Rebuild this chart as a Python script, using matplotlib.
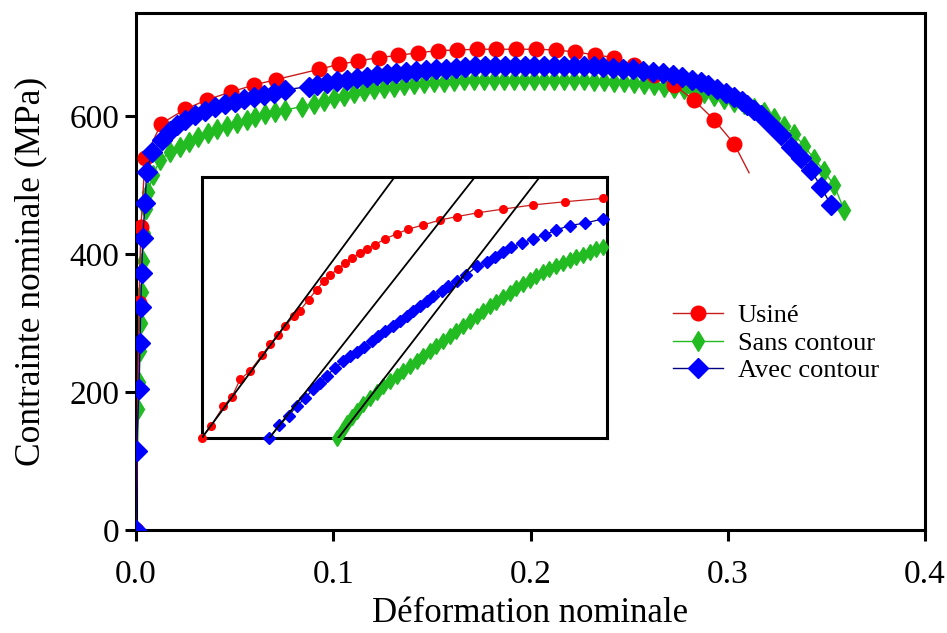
import matplotlib
matplotlib.use("Agg")
import matplotlib.pyplot as plt
import numpy as np

plt.rcParams['font.family'] = ['Liberation Serif', 'DejaVu Serif']

# ---------------- main chart data ----------------
usine_x = [0.0, 0.0015, 0.0025, 0.0046, 0.0127, 0.0249, 0.0362, 0.048, 0.0596, 0.0709,
           0.0929, 0.1027, 0.1128, 0.123, 0.1328, 0.143, 0.1531, 0.1628, 0.173, 0.1827,
           0.1927, 0.203, 0.2127, 0.2228, 0.2326, 0.2421, 0.2525, 0.2626, 0.2728, 0.2829,
           0.293, 0.3032, 0.3108]
usine_y = [0, 329, 439, 539, 589, 610, 624, 635, 645, 653,
           668, 675, 680, 685, 688, 692, 695, 696, 697, 697,
           697, 697, 696, 693, 689, 685, 674, 659, 645, 623,
           595, 560, 518]

sans_x = [0.0, 0.0012, 0.0016, 0.002, 0.0025, 0.003, 0.0035, 0.004, 0.005, 0.0063,
          0.0085, 0.0122, 0.0173, 0.0223, 0.0271, 0.0316, 0.0367, 0.0413, 0.046, 0.0511,
          0.0562, 0.0604, 0.0655, 0.0706, 0.0756, 0.0844, 0.09, 0.0951, 0.1002, 0.1052,
          0.1103, 0.1154, 0.1205, 0.1255, 0.1306, 0.1357, 0.1408, 0.1458, 0.1509, 0.156,
          0.1611, 0.1661, 0.1712, 0.1763, 0.1814, 0.1865, 0.1915, 0.1966, 0.2017, 0.2068,
          0.2118, 0.2169, 0.222, 0.2271, 0.2321, 0.2372, 0.2423, 0.2474, 0.2525, 0.2575,
          0.2626, 0.2677, 0.2728, 0.2778, 0.2829, 0.288, 0.2931, 0.2981, 0.3032, 0.3083,
          0.3134, 0.3184, 0.3235, 0.3286, 0.3336, 0.3387, 0.3438, 0.3489, 0.3539, 0.359]
sans_y = [0, 175, 215, 260, 300, 345, 390, 430, 465, 490,
          515, 536, 548, 556, 563, 570, 576, 581, 586, 590,
          595, 599, 603, 606, 609, 614, 618, 622, 626, 629,
          633, 636, 639, 641, 643, 645, 646, 648, 649, 650,
          651, 652, 652, 653, 653, 653, 653, 653, 653, 653,
          653, 652, 652, 652, 651, 651, 650, 649, 648, 647,
          645, 643, 641, 639, 636, 633, 629, 625, 621, 617,
          612, 606, 598, 586, 574, 557, 538, 520, 500, 464]

avec_x = [0.0, 0.0003, 0.0015, 0.002, 0.0024, 0.0029, 0.0034, 0.0046, 0.0054, 0.008,
          0.013, 0.017, 0.021, 0.025, 0.03, 0.035, 0.04, 0.045, 0.05, 0.055,
          0.06, 0.065, 0.07, 0.0756, 0.0875, 0.092, 0.097, 0.102, 0.107, 0.112,
          0.117, 0.122, 0.127, 0.132, 0.137, 0.142, 0.147, 0.152, 0.157, 0.162,
          0.167, 0.172, 0.177, 0.182, 0.187, 0.192, 0.197, 0.202, 0.207, 0.212,
          0.217, 0.222, 0.227, 0.232, 0.237, 0.242, 0.247, 0.252, 0.257, 0.262,
          0.267, 0.272, 0.277, 0.282, 0.2863, 0.29, 0.2948, 0.299, 0.3032, 0.307,
          0.31, 0.3135, 0.3168, 0.3218, 0.3269, 0.332, 0.337, 0.3421, 0.3472, 0.3523]
avec_y = [0, 115, 205, 271, 323, 372, 424, 474, 519, 548,
          565, 578, 587, 595, 602, 608, 613, 617, 621, 625,
          628, 631, 634, 638, 643, 645, 648, 651, 653, 655,
          657, 659, 661, 663, 664, 666, 667, 668, 669, 670,
          671, 672, 672, 673, 673, 673, 673, 673, 673, 673,
          673, 673, 672, 672, 671, 670, 669, 668, 666, 664,
          662, 660, 657, 653, 650, 645, 640, 634, 628, 622,
          616, 609, 601, 587, 572, 556, 539, 522, 498, 471]

labels = ["Usiné", "Sans contour", "Avec contour"]
x_ticks = [0.0, 0.1, 0.2, 0.3, 0.4]
x_ticklabels = ["0.0", "0.1", "0.2", "0.3", "0.4"]
y_ticks = [0, 200, 400, 600]

# ---------------- inset data (zoomed, offset curves) ----------------
ins_red_x = [0, 2.2, 5.3, 7.4, 9.4, 11.8, 14.8, 16.8, 18.7, 20.5, 22.6, 24.2, 26.3, 28.3,
             30.0, 31.6, 33.7, 35.3, 37.0, 39.0, 40.7, 42.7, 45.2, 48.1, 50.9, 54.6,
             58.8, 62.9, 68.2, 74.4, 81.8, 89.6, 99.0]
ins_red_y = [0, 4.5, 12.1, 15.7, 22.3, 25.5, 31.5, 35.9, 39.2, 42.7, 46.5, 48.7, 52.9, 56.7,
             59.9, 62.4, 64.7, 66.9, 68.8, 70.7, 72.4, 73.9, 76.2, 78.1, 79.9, 81.5,
             83.4, 84.7, 86.2, 87.6, 89.2, 90.4, 91.7]
ins_blue_x = [16.6, 19.1, 21.4, 23.4, 25.5, 27.4, 29.2, 30.8, 32.9, 34.9, 36.6, 38.2, 39.9,
              41.9, 43.5, 45.2, 47.2, 48.9, 50.5, 52.2, 53.8, 55.5, 57.1, 59.2, 60.8, 62.9,
              65.3, 67.8, 70.3, 72.3, 74.4, 76.4, 78.9, 81.8, 84.6, 87.5, 90.8, 94.5, 98.9]
ins_blue_y = [0, 4.8, 8.5, 12.1, 15.3, 18.5, 21.0, 23.8, 26.8, 29.3, 31.2, 32.9, 34.6,
              36.9, 38.9, 40.8, 42.7, 44.6, 46.5, 48.4, 50.3, 52.2, 54.1, 56.1, 58.0, 59.9,
              62.4, 65.6, 67.5, 69.4, 71.3, 73.0, 74.5, 76.2, 77.7, 79.6, 81.3, 82.2, 83.8]
ins_green_x = [33.3, 34.5, 35.7, 37.0, 38.2, 39.8, 41.5, 43.1, 44.8, 46.4, 48.1, 49.7, 51.4,
               53.0, 54.6, 56.3, 57.9, 59.5, 61.2, 62.8, 64.5, 66.1, 67.8, 69.4, 71.1, 72.7,
               74.4, 76.0, 77.6, 79.3, 80.9, 82.5, 84.2, 85.8, 87.5, 89.1, 90.8, 92.4, 94.1,
               95.7, 97.4, 99.0]
ins_green_y = [0, 2.5, 5.7, 8.0, 10.2, 12.8, 15.3, 17.5, 19.7, 21.7, 23.6, 25.5, 27.4,
               29.3, 31.2, 33.1, 35.0, 37.0, 38.9, 40.8, 42.7, 44.6, 46.5, 48.4, 50.3, 52.1,
               53.9, 55.6, 57.3, 58.9, 60.5, 61.9, 63.3, 64.6, 65.9, 67.1, 68.2, 69.2, 70.1,
               71.3, 72.3, 73.0]
# elastic offset lines: start abscissa and slope of each line
offset_starts = [0.0, 16.7, 33.7]
offset_slopes = [2.10, 1.97, 2.01]

RED = '#ff0000'
RED_LINE = '#c81e1e'
GREEN = '#22bb22'
BLUE = '#0000ff'
BLUE_LINE = '#000080'

fig = plt.figure(figsize=(9.47, 6.33), dpi=100)
ax = fig.add_axes([136/947, 1 - 530/633, (925-136)/947, (530-12.7)/633])

ax.plot(usine_x, usine_y, color=RED_LINE, lw=1.0, marker='o', ms=10.5,
        mfc=RED, mec=RED, markevery=list(range(len(usine_x) - 1)), label=labels[0], zorder=3)
ax.plot(sans_x, sans_y, color=GREEN, lw=1.0, marker='d', ms=10.5,
        mfc=GREEN, mec=GREEN, label=labels[1], zorder=2)
ax.plot(avec_x, avec_y, color=BLUE_LINE, lw=1.0, marker='D', ms=10,
        mfc=BLUE, mec=BLUE, label=labels[2], zorder=4)

ax.set_xlim(0, 0.4)
ax.set_ylim(0, 750)
ax.set_xticks(x_ticks)
ax.set_xticklabels(x_ticklabels)
ax.set_yticks(y_ticks)
for s in ax.spines.values():
    s.set_linewidth(2.2)
ax.tick_params(axis='both', direction='out', length=8, width=2.2, labelsize=24)
ax.tick_params(axis='x', pad=13)
ax.tick_params(axis='y', pad=4)
ax.set_xlabel("Déformation nominale", fontsize=25, labelpad=5)
ax.set_ylabel("Contrainte nominale (MPa)", fontsize=25.5, labelpad=16)

leg = fig.legend(loc='center left', bbox_to_anchor=(673/947, (633-343)/633),
                 frameon=False, fontsize=19, handlelength=1.9, handletextpad=0.55,
                 labelspacing=0.15, borderpad=0, borderaxespad=0)

# ---------------- inset ----------------
ins = fig.add_axes([202/947, 1 - 437.7/633, 405/947, 261/633])
ins.set_xlim(0, 100)
ins.set_ylim(0, 100)
ins.set_xticks([])
ins.set_yticks([])
for s in ins.spines.values():
    s.set_linewidth(2.2)
for x0, k in zip(offset_starts, offset_slopes):
    xs = np.array([x0, x0 + 100 / k])
    ins.plot(xs, k * (xs - x0), color='black', lw=1.3, zorder=4)
ins.plot(ins_red_x, ins_red_y, color=RED_LINE, lw=0.9, marker='o', ms=5.5,
         mfc=RED, mec=RED, clip_on=False, zorder=3)
ins.plot(ins_blue_x, ins_blue_y, color=BLUE_LINE, lw=0.9, marker='D', ms=6,
         mfc=BLUE, mec=BLUE, clip_on=False, zorder=3)
ins.plot(ins_green_x, ins_green_y, color=GREEN, lw=0.9, marker='d', ms=8,
         mfc=GREEN, mec=GREEN, clip_on=False, zorder=3)

fig.savefig("out.png", dpi=100)
